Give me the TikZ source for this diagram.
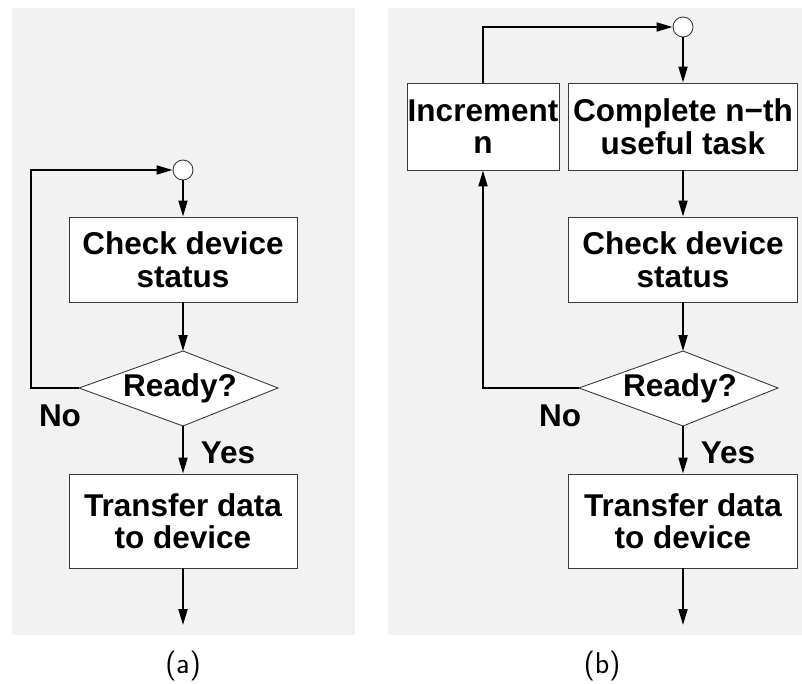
\documentclass[tikz,border=0pt]{standalone}
\usepackage{fontspec}
\setmainfont{Liberation Sans}
\usetikzlibrary{arrows.meta}

\definecolor{panelgray}{HTML}{F2F2F2}
\definecolor{boxline}{HTML}{3A3A3A}

\begin{document}
\begin{tikzpicture}[x=1pt,y=-1pt,
  box/.style={draw=boxline, line width=0.9pt, fill=white, inner sep=0pt,
    align=center, font=\bfseries\fontsize{31.5}{32.5}\selectfont},
  junction/.style={circle, draw=boxline, line width=0.9pt, fill=white,
    minimum size=20pt, inner sep=0pt},
  decision/.style={draw=boxline, line width=0.9pt, fill=white, line join=miter},
  flow/.style={line width=1.9pt, -{Triangle[length=16pt,width=9pt]}},
  lbl/.style={font=\bfseries\fontsize{31.5}{32.5}\selectfont, inner sep=0pt},
  caption/.style={font=\sffamily\fontsize{30}{32}\selectfont, inner sep=0pt, anchor=base},
]
\useasboundingbox[fill=white] (0,0) rectangle (802,683);

% panel backgrounds
\fill[panelgray] (12,8) rectangle (355,635);
\fill[panelgray] (388,8) rectangle (802,635);

% ---------------- (a) polling loop ----------------
\node[junction] (circA) at (183,170) {};
\node[box, minimum width=228pt, minimum height=85pt] (checkA) at (183,259.5) {Check device\\status};
\coordinate (dTa) at (183,351);
\coordinate (dRa) at (278,388);
\coordinate (dBa) at (183,426);
\coordinate (dLa) at (79,388);
\filldraw[decision] (dTa) -- (dRa) -- (dBa) -- (dLa) -- cycle;
\node[lbl] (readyA) at (180,388) {Ready?};
\node[box, minimum width=228pt, minimum height=94pt] (xferA) at (183,521) {Transfer data\\to device};
\coordinate (endA) at (183,625);
\coordinate (cornerA) at (31,170);

\draw[flow] (circA) -- (checkA);
\draw[flow] (checkA) -- (dTa);
\draw[flow] (dBa) -- (xferA);
\draw[flow] (xferA) -- (endA);
\draw[flow] (dLa) -| (cornerA) -- (circA);

\node[lbl] (noA) at (60,416) {No};
\node[lbl] (yesA) at (228,453) {Yes};
\node[caption] (capA) at (183,673) {(a)};

% ---------------- (b) interleaved useful work ----------------
\node[junction] (circB) at (683,27) {};
\node[box, minimum width=152pt, minimum height=87pt] (incB) at (483,126.5) {Increment\\n};
\node[box, minimum width=229pt, minimum height=87pt] (compB) at (683,126.5) {Complete n−th\\useful task};
\node[box, minimum width=229pt, minimum height=85pt] (checkB) at (683,259.5) {Check device\\status};
\coordinate (dTb) at (683,351);
\coordinate (dRb) at (778,388);
\coordinate (dBb) at (683,426);
\coordinate (dLb) at (579,388);
\filldraw[decision] (dTb) -- (dRb) -- (dBb) -- (dLb) -- cycle;
\node[lbl] (readyB) at (680,388) {Ready?};
\node[box, minimum width=229pt, minimum height=94pt] (xferB) at (683,521) {Transfer data\\to device};
\coordinate (endB) at (683,625);

\draw[flow] (circB) -- (compB);
\draw[flow] (compB) -- (checkB);
\draw[flow] (checkB) -- (dTb);
\draw[flow] (dBb) -- (xferB);
\draw[flow] (xferB) -- (endB);
\draw[flow] (dLb) -| (incB);
\draw[flow] (incB) |- (circB);

\node[lbl] (noB) at (560,416) {No};
\node[lbl] (yesB) at (728,453) {Yes};
\node[caption] (capB) at (602,673) {(b)};
\end{tikzpicture}
\end{document}
